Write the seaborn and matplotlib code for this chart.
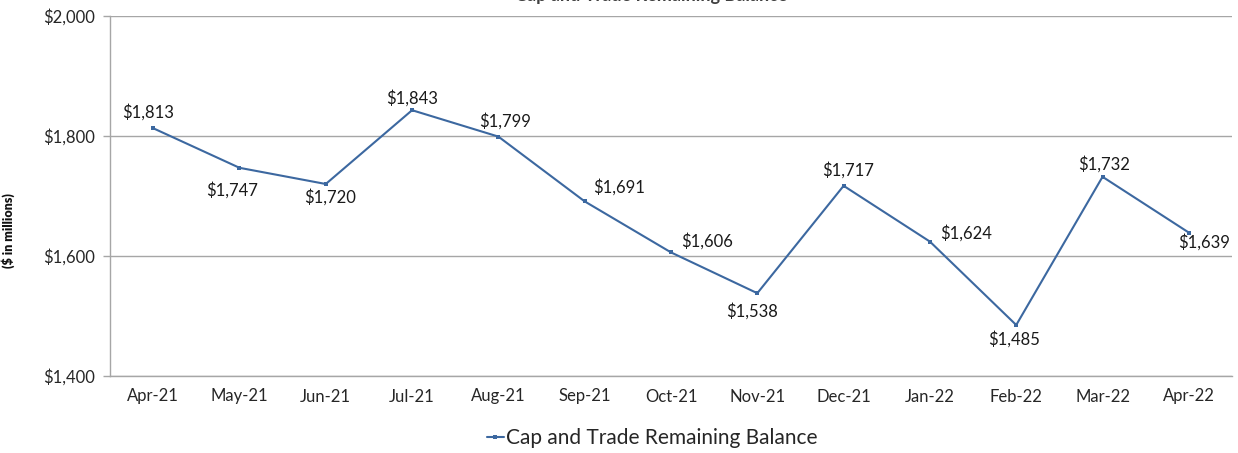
import matplotlib
matplotlib.use('Agg')
import matplotlib.pyplot as plt
import seaborn as sns
import pandas as pd
from matplotlib.ticker import FuncFormatter, FixedLocator

# Data
meses = ['Apr-21', 'May-21', 'Jun-21', 'Jul-21', 'Aug-21', 'Sep-21', 'Oct-21',
         'Nov-21', 'Dec-21', 'Jan-22', 'Feb-22', 'Mar-22', 'Apr-22']
saldo = [1813, 1747, 1720, 1843, 1799, 1691, 1606, 1538, 1717, 1624, 1485, 1732, 1639]
serie = 'Cap and Trade Remaining Balance'
y_ticks = [1400, 1600, 1800, 2000]

# label offsets in points (dx, dy)
offsets = [(-3.5, 11.5), (-5, -16), (3, -9.5), (0, 9), (5, 11), (25, 10), (26, 8),
           (-3.5, -13), (3.5, 11.5), (26, 6), (-1.5, -10), (1, 9), (11, -7)]

AZUL = '#3C68A0'
CINZA = '#A6A6A6'

def moeda(x, pos):
    return f'${x:,.0f}'

sns.set_theme(style='white')
plt.rcParams['font.family'] = ['Lato', 'DejaVu Sans']

df = pd.DataFrame({'Mes': meses, 'Saldo': saldo})

fig = plt.figure(figsize=(12.38, 4.53), dpi=100)
ax = fig.add_axes([110 / 1238, 1 - 376 / 453, 1122 / 1238, 360 / 453])

sns.lineplot(data=df, x='Mes', y='Saldo', ax=ax, color=AZUL, linewidth=1.5,
             marker='s', markersize=3.5, markeredgewidth=0, label=serie, legend=False)

ax.set_xlim(-0.5, len(meses) - 0.5)
ax.set_ylim(1400, 2000)
ax.yaxis.set_major_locator(FixedLocator(y_ticks))
ax.yaxis.set_major_formatter(FuncFormatter(moeda))
ax.grid(axis='y', color=CINZA, linewidth=1)
ax.set_axisbelow(True)

for s in ['top', 'right']:
    ax.spines[s].set_visible(False)
for s in ['left', 'bottom']:
    ax.spines[s].set_color(CINZA)
    ax.spines[s].set_linewidth(1)

# tick marks between categories
ax.set_xticks(range(len(meses)))
ax.set_xticklabels(meses, fontsize=12)
ax.tick_params(axis='x', length=0, pad=9)
ax.set_xticks([i - 0.5 for i in range(len(meses) + 1)], minor=True)
ax.tick_params(axis='x', which='minor', length=5, color=CINZA, width=1, direction='out')
ax.tick_params(axis='y', length=5, color=CINZA, width=1, labelsize=12, pad=6, left=True)
ax.set_xlabel('')
ax.set_ylabel('($ in millions)', fontsize=9, fontweight='heavy', color='#111111')
ax.yaxis.set_label_coords(-95 / 1122, 0.405)

for i, v in enumerate(saldo):
    dx, dy = offsets[i]
    ax.annotate(moeda(v, None), (i, v), xytext=(dx, dy), textcoords='offset points',
                ha='center', va='center', fontsize=12, color='#1a1a1a')

fig.text(651 / 1238, 1.0 + 4 / 453, serie, ha='center', va='center', fontsize=13,
         fontweight='bold', color='#404040')

h, l = ax.get_legend_handles_labels()
fig.legend(h, l, loc='center', bbox_to_anchor=(652 / 1238, 1 - 438 / 453), frameon=False,
           fontsize=15, handlelength=0.8, handletextpad=0.1)

fig.savefig('out.png', dpi=100)
